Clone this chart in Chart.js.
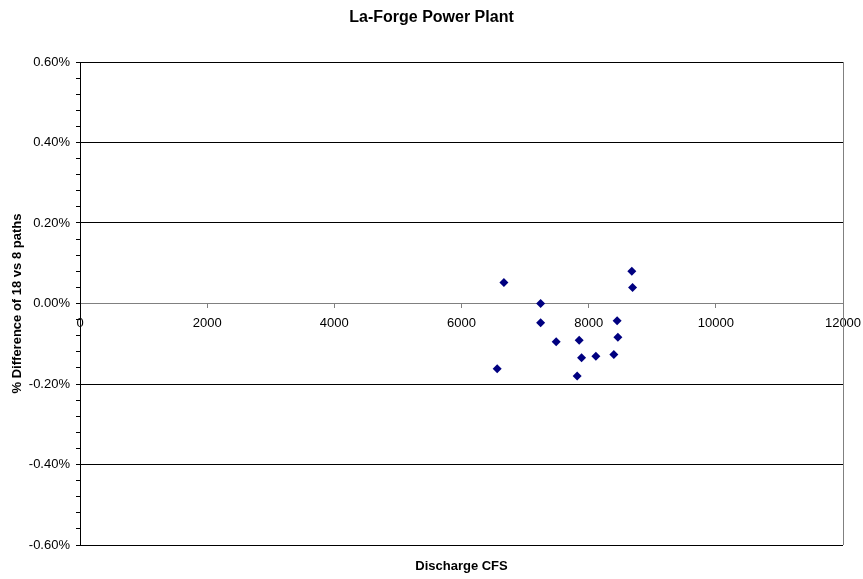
<!DOCTYPE html>
<html>
<head>
<meta charset="utf-8">
<script src="https://cdn.jsdelivr.net/npm/chart.js@4.4.1/dist/chart.umd.min.js"></script>
<style>
  html, body { margin: 0; padding: 0; background: #fff; }
  #wrap { width: 863px; height: 579px; }
</style>
</head>
<body>
<div id="wrap"><canvas id="c" width="863" height="579"></canvas></div>
<script>
// Data
const chartTitle = "La-Forge Power Plant";
const xAxisTitle = "Discharge CFS";
const yAxisTitle = "% Difference of 18 vs 8 paths";
const dischargeCFS = [6561, 6667, 7244, 7244, 7489, 7819, 7851, 7888, 8113, 8396, 8448, 8459, 8679, 8690];
const pctDifference = [-0.162, 0.052, 0.000, -0.048, -0.095, -0.180, -0.091, -0.135, -0.131, -0.127, -0.043, -0.084, 0.080, 0.040];
const xTicks = [0, 2000, 4000, 6000, 8000, 10000, 12000];
const yTickLabels = ["-0.60%", "-0.40%", "-0.20%", "0.00%", "0.20%", "0.40%", "0.60%"];

const points = dischargeCFS.map((x, i) => ({ x: x, y: pctDifference[i] }));
const FONT = "'Liberation Sans', Arial, sans-serif";

const frame = {
  id: 'frame',
  beforeDatasetsDraw(chart) {
    const { ctx, chartArea: a } = chart;
    ctx.save();
    ctx.strokeStyle = '#808080';
    ctx.lineWidth = 1;
    ctx.beginPath();
    ctx.moveTo(Math.round(a.right) + 0.5, a.top);
    ctx.lineTo(Math.round(a.right) + 0.5, a.bottom);
    ctx.stroke();
    ctx.restore();
  },
  afterDraw(chart) {
    const { ctx, chartArea: a } = chart;
    ctx.save();
    ctx.fillStyle = '#000';
    ctx.font = "bold 13px " + FONT;
    ctx.textAlign = 'center';
    ctx.textBaseline = 'middle';
    ctx.fillText(xAxisTitle, (a.left + a.right) / 2, 566);
    ctx.restore();
  }
};

new Chart(document.getElementById('c'), {
  type: 'scatter',
  data: {
    datasets: [{
      data: points,
      pointStyle: 'rectRot',
      pointRadius: 4.5,
      pointHoverRadius: 4.5,
      backgroundColor: '#000080',
      borderColor: '#000080',
      borderWidth: 0
    }]
  },
  options: {
    responsive: false,
    animation: false,
    devicePixelRatio: 1,
    layout: { padding: { left: 0, right: 0, top: 0, bottom: 34 } },
    plugins: {
      legend: { display: false },
      tooltip: { enabled: false },
      title: {
        display: true,
        text: chartTitle,
        color: '#000',
        font: { family: FONT, size: 16, weight: 'bold' },
        padding: { top: 8.4, bottom: 34.4 }
      }
    },
    scales: {
      x: {
        type: 'linear',
        position: { y: 0 },
        min: 0,
        max: 12000,
        afterBuildTicks(scale) { scale.ticks = xTicks.map(v => ({ value: v })); },
        afterFit(scale) { scale.paddingRight = 20; scale.paddingLeft = 0; },
        ticks: {
          color: '#000',
          font: { family: FONT, size: 13 },
          padding: 8,
          maxRotation: 0,
          autoSkip: false,
          callback(v) { return String(v); }
        },
        grid: { drawOnChartArea: false, drawTicks: true, tickLength: 4, tickColor: '#808080' },
        border: { color: '#808080', width: 1 }
      },
      y: {
        type: 'linear',
        min: -0.6,
        max: 0.6,
        afterFit(scale) { scale.width = 80; },
        afterBuildTicks(scale) {
          const t = [];
          for (let i = -15; i <= 15; i++) t.push({ value: i * 0.04 });
          scale.ticks = t;
        },
        ticks: {
          autoSkip: false,
          color: '#000',
          font: { family: FONT, size: 13 },
          padding: 6,
          callback(v) {
            const k = Math.round(v * 100);
            if (k % 20 !== 0) return '';
            return yTickLabels[(k + 60) / 20];
          }
        },
        grid: {
          tickLength: 4,
          tickColor: '#000',
          color(ctx) {
            const k = Math.round(ctx.tick.value * 100);
            if (k === 0) return 'rgba(0,0,0,0)';
            return k % 20 === 0 ? '#000' : 'rgba(0,0,0,0)';
          }
        },
        border: { color: '#000', width: 1 },
        title: {
          display: true,
          text: yAxisTitle,
          color: '#000',
          font: { family: FONT, size: 13, weight: 'bold' },
          padding: { top: 10, bottom: 0 }
        }
      }
    }
  },
  plugins: [frame, {
    id: 'bg',
    beforeDraw(chart) {
      const ctx = chart.ctx;
      ctx.save();
      ctx.fillStyle = '#fff';
      ctx.fillRect(0, 0, chart.width, chart.height);
      ctx.restore();
    }
  }]
});
</script>
</body>
</html>
